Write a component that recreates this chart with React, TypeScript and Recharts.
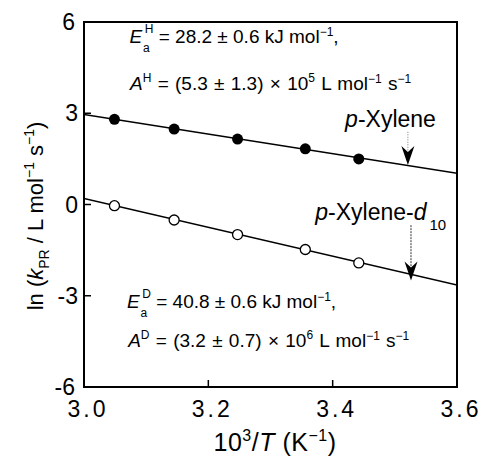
import {
  ComposedChart,
  Line,
  Scatter,
  XAxis,
  YAxis,
  ReferenceArea,
  ReferenceLine,
  ReferenceDot,
} from "recharts";

const FONT = "'Liberation Sans', Arial, Helvetica, sans-serif";

// 10^3/T values of the measured points
const invT = [3.049, 3.145, 3.247, 3.356, 3.442];
// ln k_PR, p-xylene (filled) and p-xylene-d10 (open)
const lnkH = [2.8, 2.48, 2.15, 1.83, 1.5];
const lnkD = [-0.04, -0.51, -0.99, -1.48, -1.92];

// fitted Arrhenius lines (end points)
const fitX = [3.0, 3.6];
const fitH = [2.96, 1.03];
const fitD = [0.2, -2.65];

const xTicks = [3.0, 3.2, 3.4, 3.6];
const yTicks = [-6, -3, 0, 3, 6];

const ptsH = invT.map((x, i) => ({ x, y: lnkH[i] }));
const ptsD = invT.map((x, i) => ({ x, y: lnkD[i] }));
const lineH = fitX.map((x, i) => ({ x, y: fitH[i] }));
const lineD = fitX.map((x, i) => ({ x, y: fitD[i] }));

// arrows: x, start of tail, tip
const arrowH = { x: 3.521, from: 2.39, to: 1.3 };
const arrowD = { x: 3.526, from: -0.68, to: -2.5 };

const SUP = 12;

const FilledDot = (p: any) => <circle cx={p.cx} cy={p.cy} r={5.5} fill="#000" />;
const OpenDot = (p: any) => (
  <circle cx={p.cx} cy={p.cy} r={5} fill="#fff" stroke="#000" strokeWidth={1.3} />
);

const Head = (p: any) => (
  <path
    d={`M${p.cx},${p.cy} L${p.cx - 6.5},${p.cy - 19} L${p.cx},${p.cy - 13} L${p.cx + 6.5},${p.cy - 19} Z`}
    fill="#000"
  />
);

const XTick = ({ x, y, payload }: any) => {
  const v = payload.value;
  const inner = v > 3.0 && v < 3.6;
  return (
    <g>
      {inner && <line x1={x} x2={x} y1={y} y2={y - 7} stroke="#000" strokeWidth={1.5} />}
      <text x={x + 4} y={y + 30} textAnchor="middle" fontSize={23} letterSpacing={3} fontFamily={FONT}>
        {v.toFixed(1)}
      </text>
    </g>
  );
};

const YTick = ({ x, y, payload }: any) => {
  const v = payload.value;
  const inner = v > -6 && v < 6;
  const edge = v === 6 || v === -6;
  return (
    <g>
      {inner && <line x1={x} x2={x + 7} y1={y} y2={y} stroke="#000" strokeWidth={1.5} />}
      <text x={x - (edge ? 9 : 6)} y={y + 8} textAnchor="end" fontSize={23} fontFamily={FONT}>
        {v}
      </text>
    </g>
  );
};

const YTitle = () => (
  <text transform="translate(43,216) rotate(-90)" textAnchor="middle" fontSize={22} fontFamily={FONT}>
    <tspan>ln (</tspan>
    <tspan fontStyle="italic">k</tspan>
    <tspan fontSize={14} dy={6}>PR</tspan>
    <tspan dy={-6}> / L mol</tspan>
    <tspan fontSize={14} dy={-9}>−1</tspan>
    <tspan dy={9}> s</tspan>
    <tspan fontSize={14} dy={-9}>−1</tspan>
    <tspan dy={9}>)</tspan>
  </text>
);

const XTitle = () => (
  <text x={275} y={451} textAnchor="middle" fontSize={25} letterSpacing={0.5} fontFamily={FONT}>
    <tspan>10</tspan>
    <tspan fontSize={16} dy={-10}>3</tspan>
    <tspan dy={10}>/</tspan>
    <tspan fontStyle="italic">T</tspan>
    <tspan> (K</tspan>
    <tspan fontSize={16} dy={-10}>−1</tspan>
    <tspan dy={10}>)</tspan>
  </text>
);

const eaText = (iso: string, val: string) => (p: any) => (
  <text x={p.cx} y={p.cy} fontSize={19} fontFamily={FONT}>
    <tspan fontStyle="italic">E</tspan>
    <tspan fontSize={SUP} dy={9} dx={1}>a</tspan>
    <tspan fontSize={SUP} dy={-19} dx={-5}>{iso}</tspan>
    <tspan dy={10}>{` = ${val} kJ mol`}</tspan>
    <tspan fontSize={SUP} dy={-7}>−1</tspan>
    <tspan dy={7}>,</tspan>
  </text>
);

const aText = (iso: string, val: string, exp: string) => (p: any) => (
  <text x={p.cx} y={p.cy} fontSize={19} wordSpacing={1} fontFamily={FONT}>
    <tspan fontStyle="italic">A</tspan>
    <tspan fontSize={SUP} dy={-8}>{iso}</tspan>
    <tspan dy={8}>{` = (${val}) × 10`}</tspan>
    <tspan fontSize={SUP} dy={-8}>{exp}</tspan>
    <tspan dy={8}> L mol</tspan>
    <tspan fontSize={SUP} dy={-7}>−1</tspan>
    <tspan dy={7}> s</tspan>
    <tspan fontSize={SUP} dy={-7}>−1</tspan>
  </text>
);

const nameText = (d10: boolean) => (p: any) => (
  <text x={p.cx} y={p.cy} fontSize={23} fontFamily={FONT}>
    <tspan fontStyle="italic">p</tspan>
    <tspan>{d10 ? "-Xylene-" : "-Xylene"}</tspan>
    {d10 && <tspan fontStyle="italic">d</tspan>}
    {d10 && (
      <tspan fontSize={15} dy={10} dx={3}>
        10
      </tspan>
    )}
  </text>
);

export default function App() {
  return (
    <div style={{ position: "absolute", left: 0, top: 0, background: "#fff" }}>
      <ComposedChart width={482} height={457} margin={{ top: 22, right: 25, bottom: 30, left: 24 }}>
        <XAxis
          dataKey="x"
          type="number"
          domain={[3.0, 3.6]}
          ticks={xTicks}
          allowDataOverflow
          axisLine={false}
          tickLine={false}
          tickSize={0}
          tickMargin={0}
          height={40}
          tick={<XTick />}
          label={<XTitle />}
          interval={0}
        />
        <YAxis
          type="number"
          domain={[-6, 6]}
          ticks={yTicks}
          allowDataOverflow
          axisLine={false}
          tickLine={false}
          tickSize={0}
          tickMargin={0}
          width={60}
          tick={<YTick />}
          label={<YTitle />}
          interval={0}
        />
        <ReferenceArea x1={3.0} x2={3.6} y1={-6} y2={6} fill="none" stroke="#000" strokeWidth={2} />
        <Line data={lineH} dataKey="y" type="linear" stroke="#000" strokeWidth={1.5} dot={false} isAnimationActive={false} />
        <Line data={lineD} dataKey="y" type="linear" stroke="#000" strokeWidth={1.5} dot={false} isAnimationActive={false} />
        <Scatter data={ptsH} dataKey="y" shape={FilledDot} isAnimationActive={false} />
        <Scatter data={ptsD} dataKey="y" shape={OpenDot} isAnimationActive={false} />

        <ReferenceLine
          segment={[
            { x: arrowH.x, y: arrowH.from },
            { x: arrowH.x, y: arrowH.to + 0.45 },
          ]}
          stroke="#777"
          strokeWidth={1}
          strokeDasharray="1 1.5"
        />
        <ReferenceDot x={arrowH.x} y={arrowH.to} shape={Head} />
        <ReferenceLine
          segment={[
            { x: arrowD.x, y: arrowD.from },
            { x: arrowD.x, y: arrowD.to + 0.45 },
          ]}
          stroke="#333"
          strokeWidth={1}
          strokeDasharray="2 1"
        />
        <ReferenceDot x={arrowD.x} y={arrowD.to} shape={Head} />

        <ReferenceDot x={3.073} y={5.3} shape={eaText("H", "28.2 ± 0.6")} />
        <ReferenceDot x={3.074} y={3.75} shape={aText("H", "5.3 ± 1.3", "5")} />
        <ReferenceDot x={3.42} y={2.55} shape={nameText(false)} />
        <ReferenceDot x={3.372} y={-0.5} shape={nameText(true)} />
        <ReferenceDot x={3.069} y={-3.41} shape={eaText("D", "40.8 ± 0.6")} />
        <ReferenceDot x={3.071} y={-4.68} shape={aText("D", "3.2 ± 0.7", "6")} />
      </ComposedChart>
    </div>
  );
}
